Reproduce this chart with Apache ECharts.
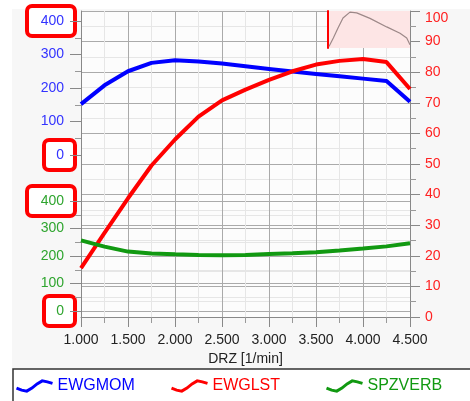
<!DOCTYPE html>
<html><head><meta charset="utf-8">
<script src="https://cdn.jsdelivr.net/npm/echarts@6/dist/echarts.min.js"></script>
<style>html,body{margin:0;padding:0;background:#fff}#c{width:470px;height:401px}</style>
</head><body><div id="c"></div>
<script>
// ---- data ----
const rpm = [1000,1250,1500,1750,2000,2250,2500,2750,3000,3250,3500,3750,4000,4250,4500];
const ewgmom = [152,208,250,275,283,279,273,265,257,249,242,235,228,221,159];
const ewglst = [16,27.5,38.8,49.5,58,65.5,70.8,74.3,77.5,80.3,82.5,83.7,84.3,83.3,74.5];
const spzverb = [257,234,216,209,206,204,203,204,207,210,214,220,227,235,246];
const xTickValues = [1000,1500,2000,2500,3000,3500,4000,4500];
const xTickLabels = ['1.000','1.500','2.000','2.500','3.000','3.500','4.000','4.500'];
const leftTickLabels = ['0','100','200','300','400'];
const rightTickLabels = ['0','10','20','30','40','50','60','70','80','90','100'];
const insetX = [1.2,6.5,12.2,18.3,26.8,35,51.2,71.6,87.8,96,100];
const insetY = [4,27,54,81,97,95,80,57,40,27,9];
const seriesNames = ['EWGMOM','EWGLST','SPZVERB'];
const highlighted = [{axis:1, value:400, label:'400'},{axis:1, value:0, label:'0'},{axis:2, value:400, label:'400'},{axis:2, value:0, label:'0'}];

const BLUE='#0000ff', RED='#ff0000', GREEN='#119911';
const FONT='Liberation Sans';
const pairs = (xs, ys) => xs.map((x,i)=>[x, ys[i]]);

const chart = echarts.init(document.getElementById('c'));
const hiddenX = (g) => ({gridIndex:g, type:'value', min:1000, max:4500, show:false});
const lblFmt = (arr, step) => (v) => { const i = Math.round(v/step); return (Math.abs(v - i*step) < 1e-6 && arr[i] !== undefined) ? arr[i] : ''; };

const legendIcon = 'path://M0,7 L5,9 L10,10 L15,7 L20,3 L25,0 L30,1 L35,2.5';
const mkLegend = (name, color, left) => ({
  left, top: 378, padding: 0, itemWidth: 36, itemHeight: 11, itemGap: 5, icon: legendIcon, z: 20,
  textStyle: {color, fontSize: 16, fontFamily: FONT, padding: [0, 0, 0, 0]},
  data: [{name, itemStyle: {color: 'rgba(0,0,0,0)', borderColor: color, borderWidth: 3}}],
  selectedMode: false
});

const option = {
  animation: false,
  backgroundColor: '#fff',
  textStyle: {fontFamily: FONT},
  grid: [
    {left: 81, right: 60, top: 11, height: 306, show: true, backgroundColor: '#fcfcfc', borderWidth: 0, z: 0},
    {left: 81, right: 60, top: 21, height: 134, show: false},
    {left: 81, right: 60, top: 201, height: 110, show: false},
    {left: 328, top: 11, width: 82, height: 37, show: true, backgroundColor: '#fde5e5', borderWidth: 0, z: 5}
  ],
  xAxis: [
    {gridIndex: 0, type: 'value', min: 1000, max: 4500, interval: 500, z: 1,
     name: 'DRZ [1/min]', nameLocation: 'middle', nameGap: 34,
     nameTextStyle: {color: '#222', fontSize: 14, fontFamily: FONT},
     axisLine: {onZero: false, lineStyle: {color: '#888', width: 1}},
     axisTick: {show: true, length: 10, lineStyle: {color: '#888'}},
     minorTick: {show: true, splitNumber: 2, length: 6, lineStyle: {color: '#999'}},
     axisLabel: {color: '#222', fontSize: 14, margin: 16, formatter: (v) => { const i = xTickValues.indexOf(v); return i >= 0 ? xTickLabels[i] : ''; }},
     splitLine: {show: true, lineStyle: {color: '#aaa', width: 1}},
     minorSplitLine: {show: true, lineStyle: {color: '#e6e6e6', width: 1}}},
    hiddenX(1), hiddenX(2),
    {gridIndex: 3, type: 'value', min: 0, max: 100, show: false}
  ],
  yAxis: [
    {gridIndex: 0, type: 'value', position: 'right', min: 0, max: 100, interval: 10, z: 1,
     axisLine: {show: true, onZero: false, lineStyle: {color: '#888', width: 1}},
     axisTick: {show: true, length: 10, lineStyle: {color: '#888'}},
     minorTick: {show: true, splitNumber: 2, length: 6, lineStyle: {color: '#999'}},
     axisLabel: {color: '#ff2222', fontSize: 14, margin: 15, verticalAlignMaxLabel: 'top', formatter: lblFmt(rightTickLabels, 10)},
     splitLine: {show: true, lineStyle: {color: '#aaa', width: 1}},
     minorSplitLine: {show: true, lineStyle: {color: '#e6e6e6', width: 1}}},
    {gridIndex: 1, type: 'value', position: 'left', min: 0, max: 400, interval: 100, z: 1,
     axisLine: {show: false},
     axisTick: {show: true, length: 11, lineStyle: {color: '#888'}},
     minorTick: {show: true, splitNumber: 2, length: 6, lineStyle: {color: '#999'}},
     axisLabel: {color: '#3333ff', fontSize: 14, margin: 17, formatter: lblFmt(leftTickLabels, 100)},
     splitLine: {show: false}, minorSplitLine: {show: false}},
    {gridIndex: 2, type: 'value', position: 'left', min: 0, max: 400, interval: 100, z: 1,
     axisLine: {show: false},
     axisTick: {show: true, length: 11, lineStyle: {color: '#888'}},
     minorTick: {show: true, splitNumber: 2, length: 6, lineStyle: {color: '#999'}},
     axisLabel: {color: '#2fa52f', fontSize: 14, margin: 17, formatter: lblFmt(leftTickLabels, 100)},
     splitLine: {show: true, lineStyle: {color: '#aaa', width: 1}},
     minorSplitLine: {show: true, lineStyle: {color: '#e6e6e6', width: 1}}},
    {gridIndex: 0, type: 'value', position: 'left', min: 0, max: 100, z: 1,
     axisLine: {show: true, onZero: false, lineStyle: {color: '#888', width: 1}},
     axisTick: {show: false}, axisLabel: {show: false}, splitLine: {show: false}},
    {gridIndex: 3, type: 'value', min: 0, max: 100, z: 6,
     axisLine: {show: true, onZero: false, lineStyle: {color: '#ff0000', width: 2}},
     axisTick: {show: false}, axisLabel: {show: false}, splitLine: {show: false}}
  ],
  legend: [mkLegend(seriesNames[0], BLUE, 15), mkLegend(seriesNames[1], RED, 170), mkLegend(seriesNames[2], GREEN, 325)],
  series: [
    {name: seriesNames[0], type: 'line', xAxisIndex: 1, yAxisIndex: 1, data: pairs(rpm, ewgmom),
     showSymbol: false, symbol: 'none', lineStyle: {color: BLUE, width: 4}, itemStyle: {color: BLUE}, z: 3},
    {name: seriesNames[1], type: 'line', xAxisIndex: 0, yAxisIndex: 0, data: pairs(rpm, ewglst),
     showSymbol: false, symbol: 'none', lineStyle: {color: RED, width: 4}, itemStyle: {color: RED}, z: 3},
    {name: seriesNames[2], type: 'line', xAxisIndex: 2, yAxisIndex: 2, data: pairs(rpm, spzverb),
     showSymbol: false, symbol: 'none', lineStyle: {color: GREEN, width: 4}, itemStyle: {color: GREEN}, z: 4},
    {type: 'line', xAxisIndex: 3, yAxisIndex: 4, data: pairs(insetX, insetY), showSymbol: false, symbol: 'none',
     lineStyle: {color: '#9c8888', width: 1.2}, z: 7, silent: true}
  ]
};
chart.setOption(option);

const graphics = [
  {type: 'rect', z: -100, silent: true, shape: {x: 12, y: 9, width: 470, height: 365}, style: {fill: '#f7f7f7'}},
  {type: 'rect', z: -40, silent: true, shape: {x: 13, y: 369, width: 470, height: 40}, style: {fill: '#fff', stroke: '#333', lineWidth: 1.5}}
];
highlighted.forEach(h => {
  const y = chart.convertToPixel({yAxisIndex: h.axis}, h.value);
  const w = h.label.length > 1 ? 48 : 31;
  graphics.push({type: 'rect', z: -50, silent: true,
    shape: {x: 75 - w, y: y - 15, width: w, height: 30, r: 5},
    style: {fill: '#fff', stroke: '#ff0000', lineWidth: 4}});
});
chart.setOption({graphic: graphics});
</script></body></html>
